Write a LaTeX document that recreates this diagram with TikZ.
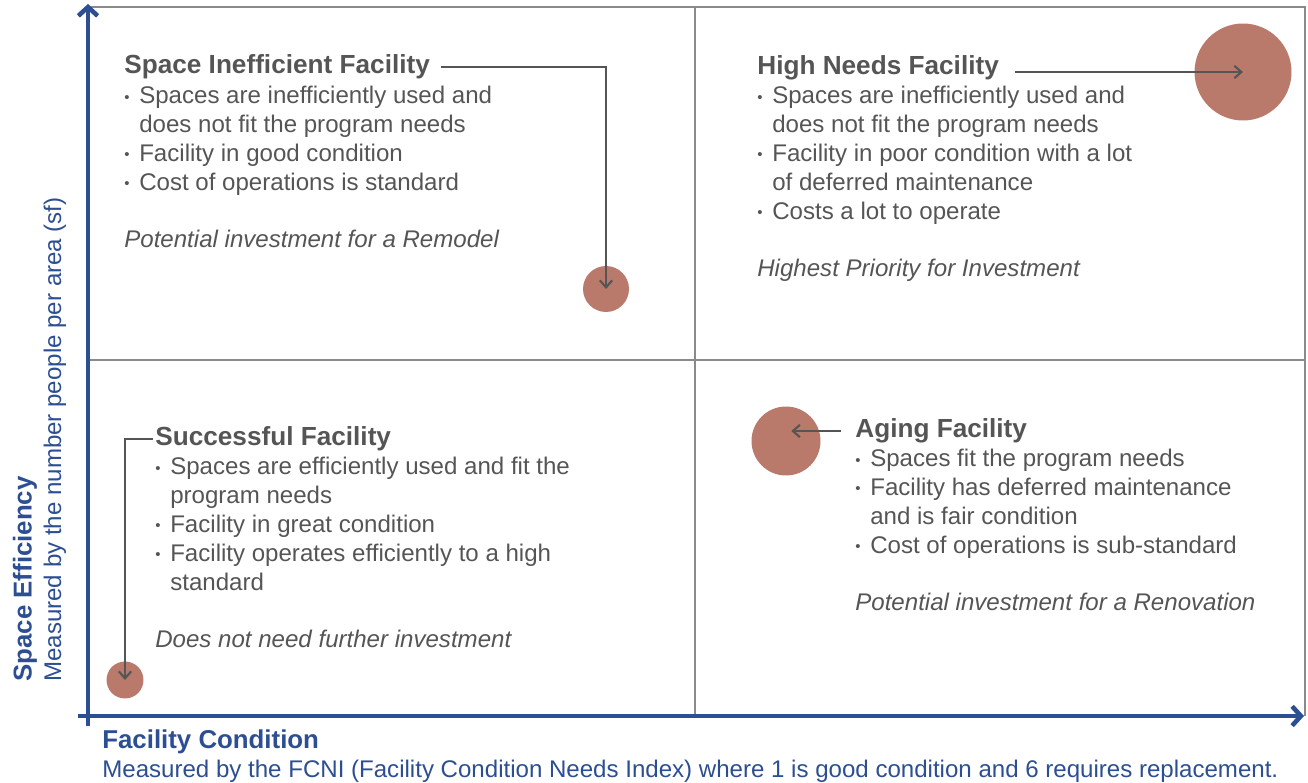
\documentclass[tikz,border=0pt]{standalone}
\usepackage{fontspec}
\setmainfont{Liberation Sans}
\usetikzlibrary{arrows.meta}

\definecolor{axisblue}{HTML}{2C4E92}
\definecolor{dotred}{HTML}{B97A6C}
\definecolor{txtgrey}{HTML}{555555}
\definecolor{gridgrey}{HTML}{8A8A8A}

\newcommand{\bl}{\makebox[8.5pt][l]{\raisebox{1.0pt}{\fontsize{8.5}{8.5}\selectfont\textbullet}}}
\newcommand{\ind}{\hspace*{8.5pt}}

\tikzset{
  quadtitle/.style={anchor=west, inner sep=0pt, text=txtgrey, font=\fontsize{14.9}{17}\selectfont\bfseries},
  quadbody/.style={anchor=north west, inner sep=0pt, text=txtgrey, align=left, font=\fontsize{13.7}{16.4}\selectfont},
  pointer/.style={draw=txtgrey, line width=1.2pt, -{Straight Barb[length=4pt,width=7pt]}},
  facility/.style={circle, fill=dotred, inner sep=0pt},
  axis/.style={draw=axisblue, line width=2.6pt, -{Straight Barb[length=5pt,width=11pt,line width=2.6pt]}}
}

\begin{document}
\begin{tikzpicture}[x=0.02cm, y=-0.02cm]
  \useasboundingbox (0,0) rectangle (1308,783);

  % quadrant grid
  \draw[gridgrey, line width=0.8pt] (88,7) -- (1305,7) -- (1305,716);
  \draw[gridgrey, line width=0.8pt] (695,7) -- (695,716);
  \draw[gridgrey, line width=0.8pt] (88,360) -- (1305,360);

  % axes
  \draw[axis] (88,726) -- (88,4);
  \draw[axis] (78,716) -- (1304,716);

  % facility dots
  \node[facility, minimum size=0.92cm] (remodel) at (606,289) {};
  \node[facility, minimum size=1.94cm] (highneeds) at (1243,72) {};
  \node[facility, minimum size=0.74cm] (success) at (125,680) {};
  \node[facility, minimum size=1.38cm] (aging) at (786,441) {};

  % top left
  \node[quadtitle] (ineffT) at (124,67) {Space Inefficient Facility};
  \node[quadbody] (ineffB) at (124,86) {\bl Spaces are inefficiently used and\\
    \ind does not fit the program needs\\
    \bl Facility in good condition\\
    \bl Cost of operations is standard\\[16.4pt]
    \textit{Potential investment for a Remodel}};

  % top right
  \node[quadtitle] (highT) at (757,68) {High Needs Facility};
  \node[quadbody] (highB) at (757,86) {\bl Spaces are inefficiently used and\\
    \ind does not fit the program needs\\
    \bl Facility in poor condition with a lot\\
    \ind of deferred maintenance\\
    \bl Costs a lot to operate\\[16.4pt]
    \textit{Highest Priority for Investment}};

  % bottom left
  \node[quadtitle] (succT) at (155,439) {Successful Facility};
  \node[quadbody] (succB) at (155,457) {\bl Spaces are efficiently used and fit the\\
    \ind program needs\\
    \bl Facility in great condition\\
    \bl Facility operates efficiently to a high\\
    \ind standard\\[16.4pt]
    \textit{Does not need further investment}};

  % bottom right
  \node[quadtitle] (agingT) at (855,431) {Aging Facility};
  \node[quadbody] (agingB) at (855,449) {\bl Spaces fit the program needs\\
    \bl Facility has deferred maintenance\\
    \ind and is fair condition\\
    \bl Cost of operations is sub-standard\\[16.4pt]
    \textit{Potential investment for a Renovation}};

  % pointers
  \draw[pointer] ([xshift=6pt]ineffT.east) -| (remodel.center);
  \draw[pointer] ([xshift=9pt]highT.east |- highneeds.center) -- (highneeds.center);
  \draw[pointer] ([xshift=-1pt]succT.west) -| (success.center);
  \draw[pointer] ([xshift=-8pt]agingT.west) -- ([xshift=3pt]agingT.west -| aging.center);

  % axis labels
  \node[anchor=west, inner sep=0pt, rotate=90, text=axisblue, font=\fontsize{14.7}{17}\selectfont\bfseries] (ylabel) at (25,682) {Space Efficiency};
  \node[anchor=west, inner sep=0pt, rotate=90, text=axisblue, font=\fontsize{13.7}{16}\selectfont] (ysub) at (55,682) {Measured by the number people per area (sf)};
  \node[anchor=west, inner sep=0pt, text=axisblue, font=\fontsize{14.7}{17}\selectfont\bfseries] (xlabel) at (102,742) {Facility Condition};
  \node[anchor=west, inner sep=0pt, text=axisblue, font=\fontsize{13.7}{16}\selectfont] (xsub) at (102,771) {Measured by the FCNI (Facility Condition Needs Index) where 1 is good condition and 6 requires replacement.};
\end{tikzpicture}
\end{document}
